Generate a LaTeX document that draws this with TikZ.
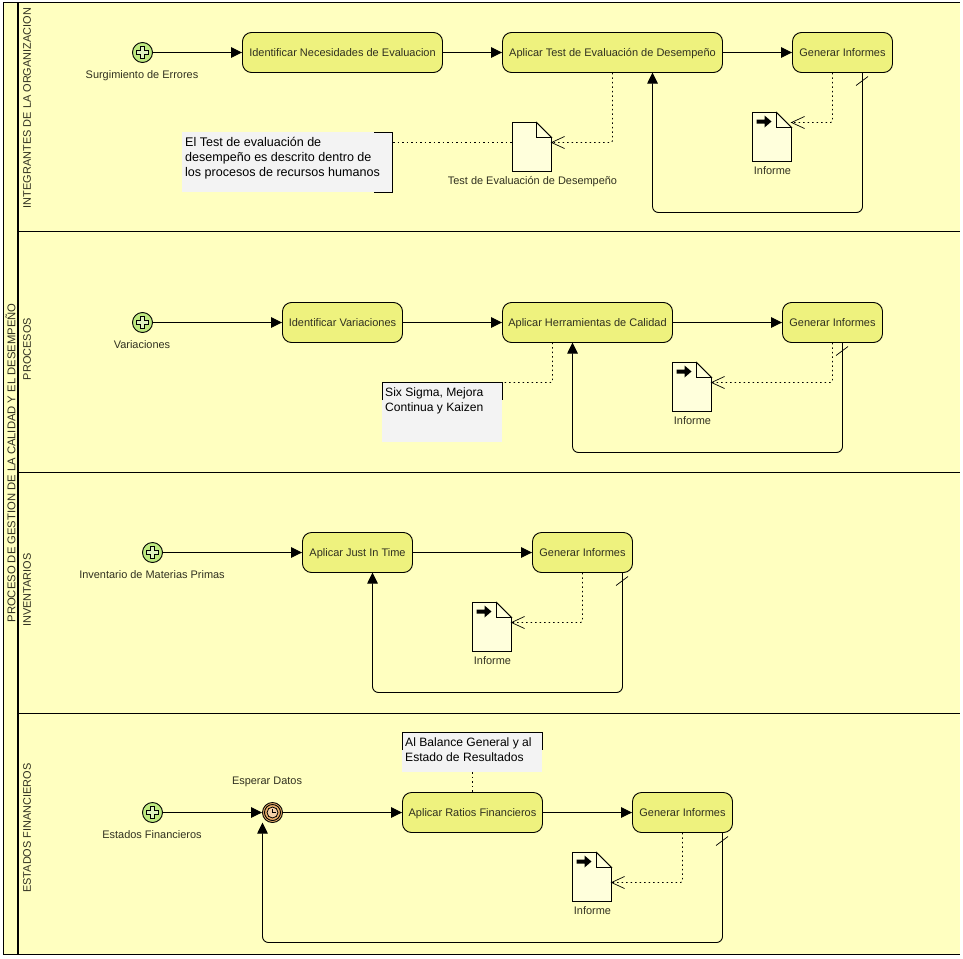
\documentclass[tikz,border=0pt]{standalone}
\usepackage{fontspec}
\setmainfont{Liberation Sans}
\usetikzlibrary{arrows.meta,positioning}
\definecolor{poolbg}{HTML}{FFFFC0}
\definecolor{taskfill}{HTML}{EEF27E}
\definecolor{evfill}{HTML}{BEEA80}
\definecolor{docfill}{HTML}{FFFFDC}
\definecolor{notefill}{HTML}{F3F3F3}
\definecolor{timerfill}{HTML}{EDB26C}
\definecolor{txt}{HTML}{303020}
\tikzset{
 x=1pt,y=-1pt,
 lane/.style={draw=black,line width=1pt},
 thick lane/.style={draw=black,line width=2.2pt},
 lanelabel/.style={rotate=90,font=\fontsize{10.95}{12}\selectfont,text=txt,inner sep=0pt},
 taskbox/.style={draw=black,line width=0.9pt,fill=taskfill,rounded corners=9pt,minimum height=40pt,inner sep=0pt,font=\fontsize{11}{12}\selectfont,text=txt,text height=8pt,text depth=0pt},
 startev/.style={circle,draw=black,line width=0.9pt,fill=evfill,minimum size=20pt,inner sep=0pt},
 lbl/.style={font=\fontsize{10.95}{12}\selectfont,text=txt,inner sep=0pt,text height=9pt,text depth=0pt},
 notetxt/.style={font=\fontsize{12.1}{15}\selectfont,text=black,align=left,inner sep=0pt,anchor=north west},
 flow/.style={draw=black,line width=0.9pt,-{Triangle[length=11pt,width=10.5pt]}},
 loopflow/.style={draw=black,line width=0.9pt,rounded corners=6pt,-{Triangle[length=11pt,width=10.5pt]}},
 assoc/.style={draw=black,line width=0.9pt,dotted,dash pattern=on 1.5pt off 3pt},
 openhead/.style={draw=black,line width=0.7pt},
 slash/.style={draw=black,line width=0.7pt},
}
% start event with plus marker
\newcommand{\startevent}[3]{%
 \node[startev] (#1) at (#2,#3) {};
 \draw[black,line width=0.9pt,fill=white!50!evfill] (#2-2,#3-6)--(#2+2,#3-6)--(#2+2,#3-2)--(#2+6,#3-2)--(#2+6,#3+2)--(#2+2,#3+2)--(#2+2,#3+6)--(#2-2,#3+6)--(#2-2,#3+2)--(#2-6,#3+2)--(#2-6,#3-2)--(#2-2,#3-2)--cycle;
}
% document: #1 name (anchor at mid-height of connector), #2 left, #3 top
\newcommand{\docshape}[3]{%
 \draw[black,line width=0.9pt,fill=docfill] (#2,#3)--(#2+24,#3)--(#2+39,#3+15)--(#2+39,#3+49)--(#2,#3+49)--cycle;
 \draw[black,line width=0.9pt,fill=docfill] (#2+24,#3)--(#2+24,#3+15)--(#2+39,#3+15)--cycle;
 \coordinate (#1) at (#2+39,#3+20);
}
\newcommand{\docarrow}[2]{%
 \fill[black] (#1+4,#2+7)--(#1+12,#2+7)--(#1+12,#2+3)--(#1+19,#2+9)--(#1+12,#2+15)--(#1+12,#2+11)--(#1+4,#2+11)--cycle;
}
\begin{document}
\begin{tikzpicture}
\useasboundingbox (0,0) rectangle (963,958);
\fill[white] (0,0) rectangle (963,958);
\fill[poolbg] (3,3) rectangle (960,954);
% pool frame
\draw[lane] (3,3)--(960,3);
\draw[lane] (3,954)--(960,954);
\draw[lane] (3,3)--(3,954);
\draw[thick lane] (18,3)--(18,954);
\draw[lane] (18,231.5)--(960,231.5);
\draw[lane] (18,472)--(960,472);
\draw[lane] (18,713)--(960,713);
% lane labels
\node[lanelabel,font=\fontsize{11.25}{12}\selectfont] (poollabel) at (10.5,463) {PROCESO DE GESTION DE LA CALIDAD Y EL DESEMPEÑO};
\node[lanelabel] (l1) at (27,108) {INTEGRANTES DE LA ORGANIZACION};
\node[lanelabel] (l2) at (27,349) {PROCESOS};
\node[lanelabel] (l3) at (27,590) {INVENTARIOS};
\node[lanelabel] (l4) at (27,828) {ESTADOS FINANCIEROS};

% ---- Lane 1
\startevent{s1}{142.5}{52.5}
\node[lbl] (s1l) at (142,74) {Surgimiento de Errores};
\node[taskbox,minimum width=200pt] (t11) at (342.5,52.5) {Identificar Necesidades de Evaluacion};
\node[taskbox,minimum width=220pt] (t12) at (612.5,52.5) {Aplicar Test de Evaluación de Desempeño};
\node[taskbox,minimum width=100pt] (t13) at (842.5,52.5) {Generar Informes};
\draw[flow] (s1)--(t11);
\draw[flow] (t11)--(t12);
\draw[flow] (t12)--(t13);
\docshape{d11}{512.5}{122.5}
\node[lbl] (d11l) at (532.5,180) {Test de Evaluación de Desempeño};
\draw[assoc,rounded corners=2pt] (t12.south)--(612.5,142.5)--(d11);
\draw[openhead] (564.5,136.5)--(551.5,142.5)--(564.5,148.5);
\fill[notefill] (182,132) rectangle (392,192);
\draw[black,line width=0.9pt] (374,132.5)--(392.5,132.5)--(392.5,192.5)--(374,192.5);
\node[notetxt,font=\fontsize{12.55}{15}\selectfont] (n1) at (185,137.5) {El Test de evaluación de\\desempeño es descrito dentro de\\los procesos de recursos humanos};
\draw[assoc] (393,142.5)--(512,142.5);
\docshape{d12}{752.5}{112.5}
\docarrow{752.5}{112.5}
\node[lbl] (d12l) at (772.5,170) {Informe};
\draw[assoc,rounded corners=2pt] (t13.south -| 832.5,0)--(832.5,122.5)--(791.5,122.5);
\draw[openhead] (804.5,116.5)--(791.5,122.5)--(804.5,128.5);
\draw[loopflow] (862.5,72.5)--(862.5,212.5)--(652.5,212.5)--(652.5,72.5);
\draw[slash] (856,85.5)--(868,76.5);

% ---- Lane 2
\startevent{s2}{142.5}{322.5}
\node[lbl] (s2l) at (142,344) {Variaciones};
\node[taskbox,minimum width=120pt] (t21) at (342.5,322.5) {Identificar Variaciones};
\node[taskbox,minimum width=170pt] (t22) at (587.5,322.5) {Aplicar Herramientas de Calidad};
\node[taskbox,minimum width=100pt] (t23) at (832.5,322.5) {Generar Informes};
\draw[flow] (s2)--(t21);
\draw[flow] (t21)--(t22);
\draw[flow] (t22)--(t23);
\fill[notefill] (382,382) rectangle (502,442);
\draw[black,line width=0.9pt] (382.5,400)--(382.5,382.5)--(502.5,382.5)--(502.5,400);
\node[notetxt] (n2) at (385,388) {Six Sigma, Mejora\\Continua y Kaizen};
\draw[assoc,rounded corners=2pt] (552.5,342.5)--(552.5,382.5)--(503,382.5);
\docshape{d21}{672.5}{362.5}
\docarrow{672.5}{362.5}
\node[lbl] (d21l) at (692.5,420) {Informe};
\draw[assoc,rounded corners=2pt] (t23.south)--(832.5,382.5)--(711.5,382.5);
\draw[openhead] (724.5,376.5)--(711.5,382.5)--(724.5,388.5);
\draw[loopflow] (842.5,342.5)--(842.5,452.5)--(572.5,452.5)--(572.5,342.5);
\draw[slash] (836,355.5)--(848,346.5);

% ---- Lane 3
\startevent{s3}{152.5}{552.5}
\node[lbl] (s3l) at (152,574) {Inventario de Materias Primas};
\node[taskbox,minimum width=110pt] (t31) at (357.5,552.5) {Aplicar Just In Time};
\node[taskbox,minimum width=100pt] (t32) at (582.5,552.5) {Generar Informes};
\draw[flow] (s3)--(t31);
\draw[flow] (t31)--(t32);
\docshape{d31}{472.5}{602.5}
\docarrow{472.5}{602.5}
\node[lbl] (d31l) at (492.5,660) {Informe};
\draw[assoc,rounded corners=2pt] (t32.south)--(582.5,622.5)--(511.5,622.5);
\draw[openhead] (524.5,616.5)--(511.5,622.5)--(524.5,628.5);
\draw[loopflow] (622.5,572.5)--(622.5,692.5)--(372.5,692.5)--(372.5,572.5);
\draw[slash] (616,585.5)--(628,576.5);

% ---- Lane 4
\startevent{s4}{152.5}{812.5}
\node[lbl] (s4l) at (152,834) {Estados Financieros};
\node[circle,draw=black,line width=0.9pt,fill=timerfill,minimum size=20pt,inner sep=0pt] (e4) at (272.5,812.5) {};
\draw[black,line width=0.9pt] (272.5,812.5) circle (8pt);
\draw[black,line width=0.8pt,fill=timerfill!60!white] (272.5,812.5) circle (5.5pt);
\draw[black,line width=0.8pt] (272.5,809)--(272.5,812.5)--(275.5,812.5);
\node[lbl] (e4l) at (267,780) {Esperar Datos};
\node[taskbox,minimum width=140pt] (t41) at (472.5,812.5) {Aplicar Ratios Financieros};
\node[taskbox,minimum width=100pt] (t42) at (682.5,812.5) {Generar Informes};
\draw[flow] (s4)--(e4);
\draw[flow] (e4)--(t41);
\draw[flow] (t41)--(t42);
\fill[notefill] (402,732) rectangle (542,772);
\draw[black,line width=0.9pt] (402.5,750)--(402.5,732.5)--(542.5,732.5)--(542.5,750);
\node[notetxt] (n4) at (405,738) {Al Balance General y al\\Estado de Resultados};
\draw[assoc] (472.5,772)--(t41.north);
\docshape{d41}{572.5}{852.5}
\docarrow{572.5}{852.5}
\node[lbl] (d41l) at (592.5,910) {Informe};
\draw[assoc,rounded corners=2pt] (t42.south)--(682.5,882.5)--(611.5,882.5);
\draw[openhead] (624.5,876.5)--(611.5,882.5)--(624.5,888.5);
\draw[loopflow] (722.5,832.5)--(722.5,942.5)--(262.5,942.5)--(262.5,822.5);
\draw[slash] (716,845.5)--(728,836.5);
\end{tikzpicture}
\end{document}
